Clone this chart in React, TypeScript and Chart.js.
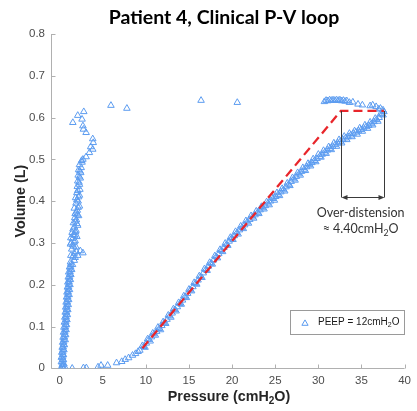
import React, { useEffect, useRef } from "react";
import { Chart, registerables } from "chart.js";

Chart.register(...registerables);

const TITLE = "Patient 4, Clinical P-V loop";
const X_TITLE = ["Pressure (cmH", "2", "O)"];
const Y_TITLE = "Volume (L)";
const SERIES_LABEL = ["PEEP = 12cmH", "2", "O"];
const NOTE_LINE1 = "Over-distension";
const NOTE_LINE2 = ["≈ 4.40cmH", "2", "O"];

const xRange = [-1, 40];
const yRange = [0, 0.8];
const xTickValues = [0, 5, 10, 15, 20, 25, 30, 35, 40];
const yTickValues = [0, 0.1, 0.2, 0.3, 0.4, 0.5, 0.6, 0.7, 0.8];

// inflation limb: foot near zero volume
const inflationFoot: [number, number][] = [
  [1.46, 0], [2.76, 0.001], [3.1, 0.001], [4.45, 0.003], [4.8, 0.007], [5.57, 0.007],
  [6.6, 0.013], [7.2, 0.016], [7.6, 0.021], [8.0, 0.025], [8.45, 0.031], [8.8, 0.035],
  [9.1, 0.04], [9.3, 0.043],
];

// inflation limb: main body (outer edges of the band)
const inflationEdge: [number, number][] = [
  [9.6, 0.054], [9.9, 0.05], [10.2, 0.07], [10.5, 0.065], [10.8, 0.084], [11.1, 0.079],
  [11.4, 0.098], [11.7, 0.092], [12.0, 0.111], [12.3, 0.107], [12.6, 0.127], [12.9, 0.122],
  [13.2, 0.142], [13.5, 0.137], [13.8, 0.157], [14.1, 0.153], [14.4, 0.173], [14.7, 0.169],
  [15.0, 0.189], [15.3, 0.185], [15.6, 0.205], [15.9, 0.201], [16.2, 0.221], [16.5, 0.217],
  [16.8, 0.238], [17.1, 0.234], [17.4, 0.253], [17.7, 0.249], [18.0, 0.269], [18.3, 0.264],
  [18.6, 0.284], [18.9, 0.279], [19.2, 0.299], [19.5, 0.294], [19.8, 0.313], [20.1, 0.308],
  [20.4, 0.327], [20.7, 0.321], [21.0, 0.34], [21.3, 0.334], [21.6, 0.353], [21.9, 0.347],
  [22.2, 0.365], [22.5, 0.359], [22.8, 0.376], [23.1, 0.37], [23.4, 0.387], [23.7, 0.381],
  [24.0, 0.398], [24.3, 0.391], [24.6, 0.409], [24.9, 0.402], [25.2, 0.42], [25.5, 0.413],
  [25.8, 0.43], [26.1, 0.424], [26.4, 0.443], [26.7, 0.437], [27.0, 0.456], [27.3, 0.45],
  [27.6, 0.468], [27.9, 0.462], [28.2, 0.48], [28.5, 0.473], [28.8, 0.49], [29.1, 0.484],
  [29.4, 0.501], [29.7, 0.494], [30.0, 0.512], [30.3, 0.505], [30.6, 0.521], [30.9, 0.514],
  [31.2, 0.53], [31.5, 0.523], [31.8, 0.539], [32.1, 0.531], [32.4, 0.547], [32.7, 0.539],
  [33.0, 0.555], [33.3, 0.547], [33.6, 0.562], [33.9, 0.554], [34.2, 0.568], [34.5, 0.56],
  [34.8, 0.575], [35.1, 0.567], [35.4, 0.582], [35.7, 0.574], [36.0, 0.589], [36.3, 0.582],
  [36.6, 0.598], [36.9, 0.591], [37.2, 0.609], [37.5, 0.606], [37.6, 0.614],
];

// inflation limb: main body (middle of the band)
const inflationMid: [number, number][] = [
  [9.75, 0.052], [10.05, 0.06], [10.35, 0.069], [10.65, 0.075], [10.95, 0.082], [11.25, 0.088],
  [11.55, 0.095], [11.85, 0.102], [12.15, 0.109], [12.45, 0.117], [12.75, 0.125], [13.05, 0.132],
  [13.35, 0.14], [13.65, 0.147], [13.95, 0.155], [14.25, 0.163], [14.55, 0.171], [14.85, 0.179],
  [15.15, 0.187], [15.45, 0.195], [15.75, 0.203], [16.05, 0.211], [16.35, 0.219], [16.65, 0.228],
  [16.95, 0.236], [17.25, 0.244], [17.55, 0.251], [17.85, 0.259], [18.15, 0.267], [18.45, 0.274],
  [18.75, 0.282], [19.05, 0.289], [19.35, 0.296], [19.65, 0.304], [19.95, 0.311], [20.25, 0.317],
  [20.55, 0.324], [20.85, 0.331], [21.15, 0.337], [21.45, 0.343], [21.75, 0.35], [22.05, 0.356],
  [22.35, 0.362], [22.65, 0.367], [22.95, 0.373], [23.25, 0.379], [23.55, 0.384], [23.85, 0.389],
  [24.15, 0.395], [24.45, 0.4], [24.75, 0.406], [25.05, 0.411], [25.35, 0.416], [25.65, 0.422],
  [25.95, 0.427], [26.25, 0.434], [26.55, 0.44], [26.85, 0.447], [27.15, 0.453], [27.45, 0.459],
  [27.75, 0.465], [28.05, 0.471], [28.35, 0.476], [28.65, 0.482], [28.95, 0.487], [29.25, 0.492],
  [29.55, 0.497], [29.85, 0.502], [30.15, 0.507], [30.45, 0.512], [30.75, 0.517], [31.05, 0.522],
  [31.35, 0.526], [31.65, 0.531], [31.95, 0.535], [32.25, 0.539], [32.55, 0.543], [32.85, 0.547],
  [33.15, 0.551], [33.45, 0.554], [33.75, 0.558], [34.05, 0.562], [34.35, 0.565], [34.65, 0.568],
  [34.95, 0.571], [35.25, 0.575], [35.55, 0.578], [35.85, 0.581], [36.15, 0.585], [36.45, 0.59],
  [36.75, 0.595], [37.05, 0.6], [37.35, 0.608],
];

// end-inspiratory plateau
const plateau: [number, number][] = [
  [37.5, 0.618], [37.2, 0.622], [37.0, 0.62], [36.7, 0.626], [36.3, 0.63], [36.0, 0.628],
  [35.1, 0.63], [34.6, 0.632], [34.0, 0.637], [33.6, 0.636], [33.3, 0.64], [33.1, 0.639],
  [32.9, 0.641], [32.7, 0.64], [32.5, 0.642], [32.3, 0.641], [32.1, 0.642], [31.9, 0.641],
  [31.7, 0.642], [31.5, 0.641], [31.3, 0.642], [31.1, 0.64], [30.9, 0.641], [30.7, 0.638],
  [20.6, 0.636], [16.4, 0.641], [7.8, 0.622], [5.95, 0.629],
];

// expiratory limb
const expiration: [number, number][] = [
  [2.8, 0.614], [2.1, 0.605], [1.53, 0.588], [2.6, 0.596], [2.7, 0.58], [2.76, 0.572],
  [3.07, 0.564], [3.84, 0.549], [3.9, 0.54], [3.6, 0.53], [3.84, 0.524], [3.45, 0.516],
  [3.07, 0.506], [2.7, 0.5], [2.6, 0.493], [2.3, 0.487], [2.5, 0.48], [2.2, 0.475],
  [2.45, 0.468], [2.15, 0.462], [2.4, 0.455], [2.1, 0.448], [2.3, 0.44], [2.05, 0.435],
  [2.35, 0.428], [2.0, 0.42], [2.3, 0.414], [1.85, 0.408], [2.15, 0.4], [1.9, 0.395],
  [2.3, 0.388], [1.7, 0.383], [2.05, 0.378], [1.8, 0.37], [2.2, 0.365], [1.75, 0.36],
  [1.95, 0.355], [1.6, 0.348], [2.1, 0.342], [1.7, 0.338], [1.9, 0.33], [1.45, 0.325],
  [1.6, 0.32], [2.0, 0.315], [1.5, 0.31], [1.8, 0.305], [1.35, 0.3], [1.5, 0.295],
  [1.9, 0.29], [1.4, 0.285], [1.7, 0.275], [1.3, 0.27], [2.7, 0.276], [2.4, 0.281],
  [2.1, 0.27], [1.8, 0.265], [1.7, 0.258], [1.25, 0.254], [1.5, 0.248], [1.15, 0.242],
  [1.4, 0.236], [1.05, 0.23], [1.3, 0.224], [1.0, 0.218], [1.25, 0.212], [0.95, 0.206],
  [1.2, 0.2], [0.9, 0.194], [1.15, 0.188], [0.85, 0.182], [1.1, 0.176], [0.8, 0.17],
  [1.05, 0.164], [0.75, 0.158], [1.0, 0.152], [0.7, 0.146], [0.95, 0.14], [0.65, 0.134],
  [0.9, 0.128], [0.6, 0.122], [0.85, 0.116], [0.55, 0.11], [0.8, 0.104], [0.5, 0.098],
  [0.75, 0.092], [0.45, 0.086], [0.7, 0.08], [0.4, 0.074], [0.65, 0.068], [0.35, 0.062],
  [0.55, 0.056], [0.3, 0.05], [0.5, 0.044], [0.25, 0.038], [0.45, 0.032], [0.2, 0.026],
  [0.45, 0.02], [0.2, 0.015], [0.5, 0.01], [0.3, 0.005], [0.15, 0], [0.45, 0], [0.6, 0.003],
];

// expiratory limb: extra samples filling the band
const expirationMid: [number, number][] = [
  [1.55, 0.268], [1.95, 0.279], [1.6, 0.292], [1.25, 0.297], [1.7, 0.302], [1.3, 0.312],
  [1.75, 0.318], [1.85, 0.326], [1.55, 0.333], [2.0, 0.346], [1.85, 0.352], [2.05, 0.367],
  [1.95, 0.374], [2.15, 0.385], [2.0, 0.403], [2.2, 0.41], [2.1, 0.425], [2.25, 0.445],
  [2.3, 0.458], [2.35, 0.472], [2.55, 0.497],
  [1.3, 0.249], [1.27, 0.243], [1.24, 0.237], [1.21, 0.231], [1.18, 0.225], [1.15, 0.219],
  [1.12, 0.213], [1.09, 0.207], [1.06, 0.201], [1.03, 0.195], [1.0, 0.189], [0.98, 0.183],
  [0.96, 0.177], [0.93, 0.171], [0.91, 0.165], [0.88, 0.159], [0.86, 0.153], [0.84, 0.147],
  [0.81, 0.141], [0.79, 0.135], [0.77, 0.129], [0.75, 0.123], [0.73, 0.117], [0.71, 0.111],
  [0.69, 0.105], [0.66, 0.099], [0.63, 0.093], [0.6, 0.087], [0.57, 0.081], [0.54, 0.075],
  [0.5, 0.069], [0.47, 0.063], [0.44, 0.057], [0.41, 0.051], [0.39, 0.045], [0.37, 0.039],
  [0.36, 0.033], [0.35, 0.027], [0.34, 0.021], [0.33, 0.015], [0.32, 0.009], [0.31, 0.003],
];

// red dashed fit line (linear compliance + plateau)
const fitLineX = [9.6, 32.6, 37.6];
const fitLineY = [0.048, 0.616, 0.616];

// over-distension bracket
const bracketX = [32.6, 37.6];
const bracketTopY = 0.616;
const bracketBottomY = 0.41;
const noteX = 34.9;
const noteY = [0.372, 0.333];

const BLUE = "rgb(92,156,240)";
const RED = "#e8262b";
const SANS = "'Liberation Sans', Arial, sans-serif";
const CAL = "Lato, 'Open Sans', sans-serif";

function drawParts(ctx: CanvasRenderingContext2D, parts: string[], x: number, y: number, size: number, weight: string, family: string, align: "center" | "left") {
  const subSize = size * 0.7;
  const widths = parts.map((p, i) => {
    ctx.font = `${weight} ${i === 1 ? subSize : size}px ${family}`;
    return ctx.measureText(p).width;
  });
  const total = widths.reduce((a, b) => a + b, 0);
  let cx = align === "center" ? x - total / 2 : x;
  ctx.textAlign = "left";
  ctx.textBaseline = "middle";
  parts.forEach((p, i) => {
    ctx.font = `${weight} ${i === 1 ? subSize : size}px ${family}`;
    ctx.fillText(p, cx, i === 1 ? y + size * 0.3 : y);
    cx += widths[i];
  });
}

const decorPlugin = {
  id: "decor",
  beforeDatasetsDraw(chart: any) {
    const { ctx, chartArea } = chart;
    const xs = chart.scales.x;
    const ys = chart.scales.y;
    ctx.save();
    ctx.strokeStyle = "#b0b0b0";
    ctx.lineWidth = 1;
    ctx.beginPath();
    const lx = Math.round(chartArea.left) + 0.5;
    const by = Math.round(chartArea.bottom) + 0.5;
    ctx.moveTo(lx, chartArea.top);
    ctx.lineTo(lx, by);
    ctx.lineTo(chartArea.right, by);
    yTickValues.forEach((v) => {
      const py = Math.round(ys.getPixelForValue(v)) + 0.5;
      ctx.moveTo(lx, py);
      ctx.lineTo(lx + 4, py);
    });
    xTickValues.forEach((v) => {
      const px = Math.round(xs.getPixelForValue(v)) + 0.5;
      ctx.moveTo(px, by);
      ctx.lineTo(px, by - 4);
    });
    ctx.stroke();
    ctx.restore();
  },
  afterDatasetsDraw(chart: any) {
    const { ctx } = chart;
    const xs = chart.scales.x;
    const ys = chart.scales.y;
    ctx.save();
    const x1 = Math.round(xs.getPixelForValue(bracketX[0])) + 0.5;
    const x2 = Math.round(xs.getPixelForValue(bracketX[1])) + 0.5;
    const yt = ys.getPixelForValue(bracketTopY);
    const yb = Math.round(ys.getPixelForValue(bracketBottomY)) + 0.5;
    ctx.strokeStyle = "#3a3a3a";
    ctx.fillStyle = "#3a3a3a";
    ctx.lineWidth = 1;
    ctx.beginPath();
    ctx.moveTo(x1, yt);
    ctx.lineTo(x1, yb);
    ctx.moveTo(x2, yt);
    ctx.lineTo(x2, yb);
    ctx.moveTo(x1 + 4, yb);
    ctx.lineTo(x2 - 4, yb);
    ctx.stroke();
    ctx.beginPath();
    ctx.moveTo(x1, yb);
    ctx.lineTo(x1 + 6, yb - 2.5);
    ctx.lineTo(x1 + 6, yb + 2.5);
    ctx.closePath();
    ctx.moveTo(x2, yb);
    ctx.lineTo(x2 - 6, yb - 2.5);
    ctx.lineTo(x2 - 6, yb + 2.5);
    ctx.closePath();
    ctx.fill();
    ctx.fillStyle = "#333333";
    const nx = xs.getPixelForValue(noteX);
    drawParts(ctx, [NOTE_LINE1], nx, ys.getPixelForValue(noteY[0]), 12.5, "normal", CAL, "center");
    drawParts(ctx, NOTE_LINE2, nx, ys.getPixelForValue(noteY[1]), 12.5, "normal", CAL, "center");
    const lgX = 290.5, lgY = 310.5, lgW = 114, lgH = 24;
    ctx.fillStyle = "#ffffff";
    ctx.fillRect(lgX, lgY, lgW, lgH);
    ctx.strokeStyle = "#9a9a9a";
    ctx.strokeRect(lgX, lgY, lgW, lgH);
    const tx = 305, ty = 323.5, r = 3.6;
    ctx.strokeStyle = BLUE;
    ctx.beginPath();
    ctx.moveTo(tx, ty - r);
    ctx.lineTo(tx + r * 0.866, ty + r / 2);
    ctx.lineTo(tx - r * 0.866, ty + r / 2);
    ctx.closePath();
    ctx.stroke();
    ctx.fillStyle = "#1a1a1a";
    drawParts(ctx, SERIES_LABEL, 318, ty - 1, 10, "normal", SANS, "left");
    ctx.restore();
  },
  afterDraw(chart: any) {
    const { ctx, chartArea } = chart;
    ctx.save();
    ctx.fillStyle = "#000000";
    ctx.textAlign = "center";
    ctx.textBaseline = "middle";
    ctx.font = `bold 19.5px ${CAL}`;
    ctx.fillText(TITLE, 224, 18);
    ctx.fillStyle = "#262626";
    drawParts(ctx, X_TITLE, 229, 397, 14.3, "bold", SANS, "center");
    ctx.translate(21, (chartArea.top + chartArea.bottom) / 2);
    ctx.rotate(-Math.PI / 2);
    ctx.font = `bold 14.3px ${SANS}`;
    ctx.textAlign = "center";
    ctx.fillText(Y_TITLE, 0, 0);
    ctx.restore();
  },
};

export default function App() {
  const ref = useRef<HTMLCanvasElement | null>(null);
  useEffect(() => {
    if (!ref.current) return;
    const toXY = (arr: [number, number][]) => arr.map(([x, y]) => ({ x, y }));
    const points = [
      ...toXY(inflationFoot), ...toXY(inflationEdge), ...toXY(inflationMid),
      ...toXY(plateau), ...toXY(expiration), ...toXY(expirationMid),
    ];
    const fit = fitLineX.map((x, i) => ({ x, y: fitLineY[i] }));
    const chart = new Chart(ref.current, {
      type: "scatter",
      data: {
        datasets: [
          {
            label: "fit",
            data: fit,
            showLine: true,
            borderColor: RED,
            borderWidth: 2.3,
            borderDash: [9, 5],
            pointRadius: 0,
            order: 0,
          } as any,
          {
            label: SERIES_LABEL.join(""),
            data: points,
            pointStyle: "triangle",
            pointRadius: 3.8,
            borderWidth: 1,
            borderColor: BLUE,
            backgroundColor: "rgba(0,0,0,0)",
            order: 1,
          } as any,
        ],
      },
      options: {
        responsive: false,
        animation: false,
        devicePixelRatio: 1,
        layout: { padding: { left: 0, top: 34, right: 9.7, bottom: 0 } },
        plugins: { legend: { display: false }, tooltip: { enabled: false }, title: { display: false } },
        scales: {
          x: {
            type: "linear",
            min: xRange[0],
            max: xRange[1],
            grid: { display: false, drawTicks: false },
            border: { display: false },
            afterBuildTicks: (s: any) => { s.ticks = xTickValues.map((v) => ({ value: v })); },
            afterFit: (s: any) => { s.height = 42.7; },
            ticks: { font: { size: 11.5, family: SANS }, color: "#4d4d4d", padding: 6, maxRotation: 0, autoSkip: false },
          },
          y: {
            type: "linear",
            min: yRange[0],
            max: yRange[1],
            grid: { display: false, drawTicks: false },
            border: { display: false },
            afterBuildTicks: (s: any) => { s.ticks = yTickValues.map((v) => ({ value: v })); },
            afterFit: (s: any) => { s.width = 51; },
            ticks: { font: { size: 11.5, family: SANS }, color: "#4d4d4d", padding: 6, autoSkip: false },
          },
        },
      },
      plugins: [decorPlugin],
    });
    return () => chart.destroy();
  }, []);
  return (
    <div style={{ position: "fixed", left: 0, top: 0, width: 417, height: 411, background: "#fff" }}>
      <canvas ref={ref} width={417} height={411} />
    </div>
  );
}
